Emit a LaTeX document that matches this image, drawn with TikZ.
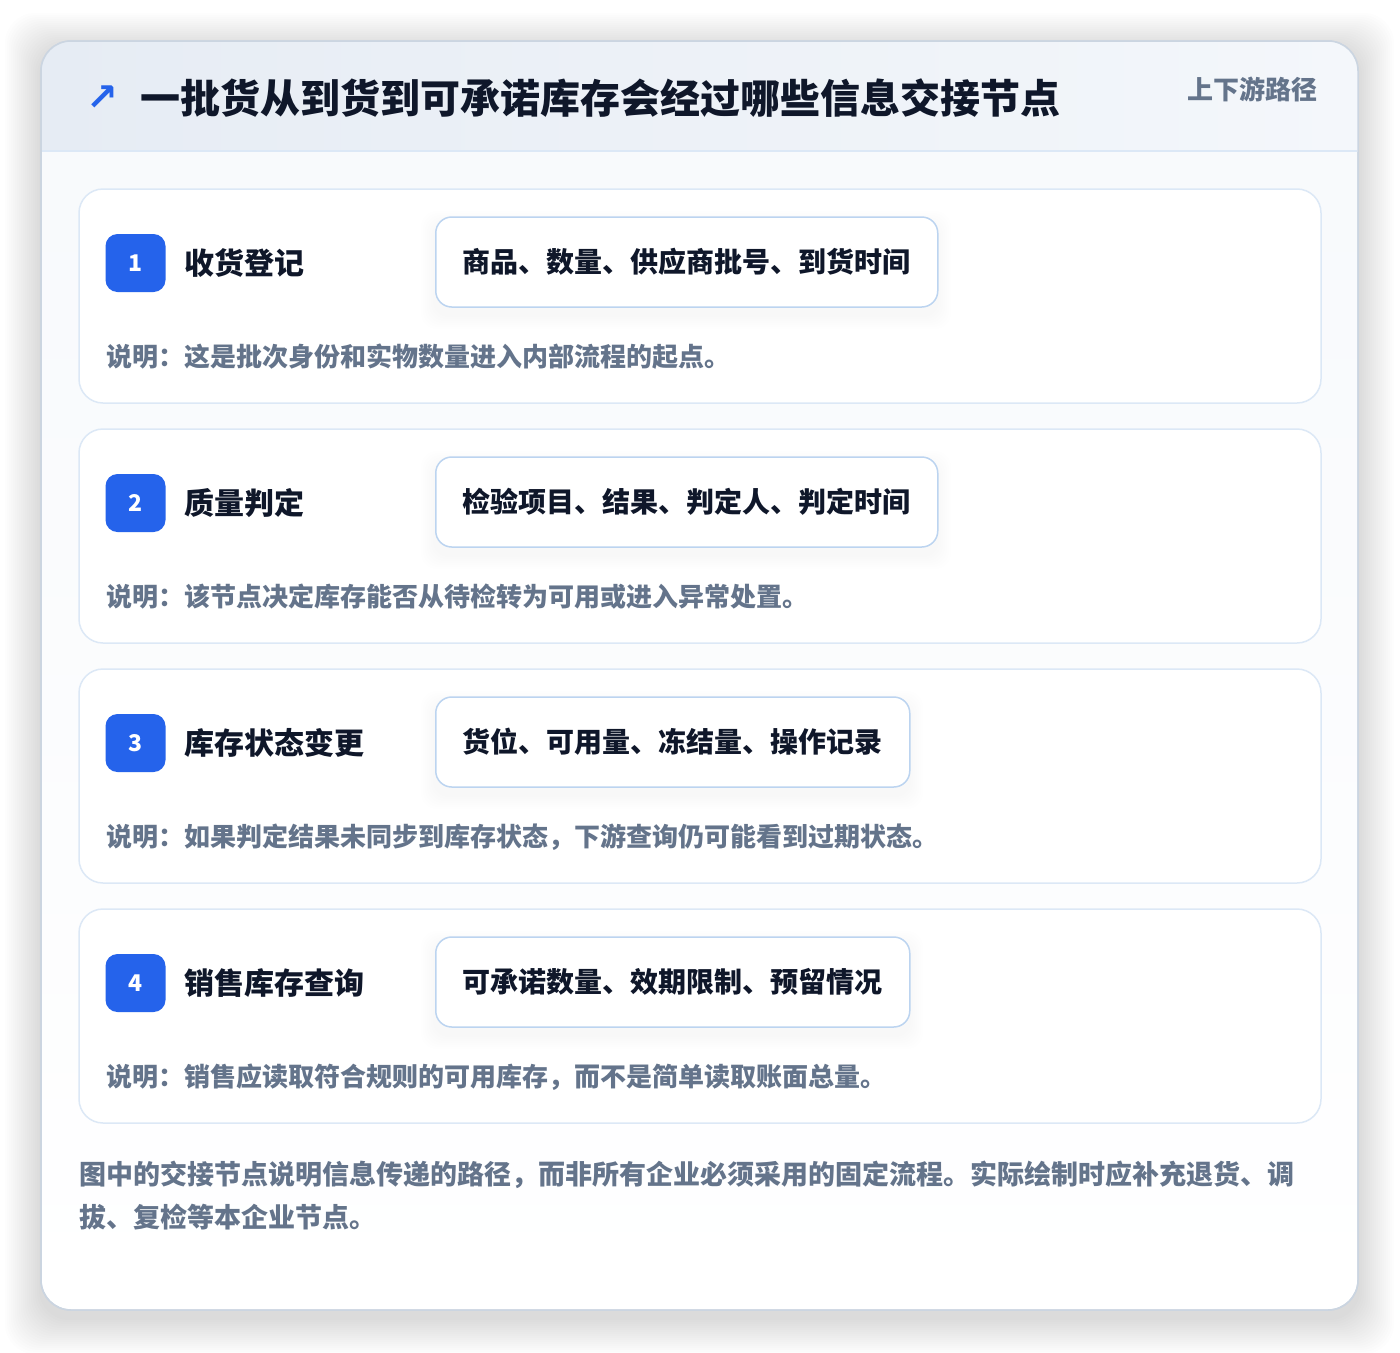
\documentclass[tikz,border=0pt]{standalone}
\usepackage{fontspec}
\setmainfont{Noto Sans CJK SC}
\newfontfamily\symfont{DejaVu Sans}
\usetikzlibrary{positioning}

\definecolor{ink}{HTML}{0F172A}
\definecolor{muted}{HTML}{64748B}
\definecolor{brand}{HTML}{2563EB}
\definecolor{edge}{HTML}{DCE8F6}
\definecolor{chipedge}{HTML}{BCD4F0}
\definecolor{cardedge}{HTML}{CBD5E1}
\definecolor{headl}{HTML}{E6ECF4}
\definecolor{headr}{HTML}{F4F7FB}
\definecolor{paper}{HTML}{F7F9FC}

\tikzset{
  card/.style={draw=cardedge, line width=1.5pt, rounded corners=30pt},
  stepbox/.style={draw=edge, line width=1.5pt, fill=white, rounded corners=24pt},
  badge/.style={fill=brand, text=white, rounded corners=12pt, minimum width=60pt,
    minimum height=58pt, inner sep=0pt, font=\bfseries\fontsize{23}{23}\selectfont},
  steptitle/.style={text=ink, anchor=west, inner sep=0pt, font=\bfseries\fontsize{30}{30}\selectfont},
  chip/.style={draw=chipedge, line width=1.5pt, fill=white, rounded corners=16pt,
    minimum height=90pt, inner xsep=27pt, anchor=west, text=ink,
    font=\bfseries\fontsize{28}{28}\selectfont},
  note/.style={text=muted, anchor=west, inner sep=0pt, font=\bfseries\fontsize{26}{26}\selectfont},
}

\begin{document}
\begin{tikzpicture}[x=1pt,y=-1pt]
  \useasboundingbox (0,0) rectangle (1400,1352);
  \fill[white] (0,0) rectangle (1400,1352);

  % soft shadow under the card
  \foreach \s in {2,4,...,36}
    \fill[black,opacity=0.006,rounded corners=30pt] (41-\s,49-\s) rectangle (1358+\s,1318+\s);

  % card and header band
  \shade[card, top color=paper, bottom color=white] (41,41) rectangle (1358,1310);
  \begin{scope}
    \clip[rounded corners=30pt] (41,41) rectangle (1358,1310);
    \shade[left color=headl, right color=headr] (41,41) rectangle (1358,151);
  \end{scope}
  \draw[edge, line width=1.5pt] (42,151) -- (1357,151);
  \draw[card] (41,41) rectangle (1358,1310);

  \node[text=brand, font=\symfont\bfseries\fontsize{38}{38}\selectfont] (icon) at (102,98) {↗};
  \node[text=ink, anchor=west, inner sep=0pt, font=\bfseries\fontsize{40}{40}\selectfont]
    (title) at (140,98) {一批货从到货到可承诺库存会经过哪些信息交接节点};
  \node[text=muted, anchor=east, inner sep=0pt, font=\bfseries\fontsize{26}{26}\selectfont]
    (tag) at (1318,89) {上下游路径};

  % the four steps
  \foreach \n/\name/\fields/\right/\remark [count=\i from 0] in {
      1/收货登记/商品、数量、供应商批号、到货时间/937/说明：这是批次身份和实物数量进入内部流程的起点。,
      2/质量判定/检验项目、结果、判定人、判定时间/937/说明：该节点决定库存能否从待检转为可用或进入异常处置。,
      3/库存状态变更/货位、可用量、冻结量、操作记录/909/说明：如果判定结果未同步到库存状态，下游查询仍可能看到过期状态。,
      4/销售库存查询/可承诺数量、效期限制、预留情况/909/说明：销售应读取符合规则的可用库存，而不是简单读取账面总量。}
  {
    \pgfmathsetmacro{\top}{189+240*\i}
    \draw[stepbox] (79,\top) rectangle (1321,\top+214);
    \node[badge] (badge\n) at (135.5,\top+74) {\n};
    \node[steptitle] (name\n) at (184,\top+74) {\name};
    \foreach \d in {2,4,...,14}
      \fill[black,opacity=0.004,rounded corners=16pt] (435-\d,\top+28-\d+8) rectangle (\right+\d,\top+118+\d+8);
    \node[chip] (fields\n) at (435,\top+73) {\fields};
    \node[note] (remark\n) at (106,\top+168) {\remark};
  }

  % closing remark
  \node[note, font=\bfseries\fontsize{27}{27}\selectfont] (footA) at (79,1175)
    {图中的交接节点说明信息传递的路径，而非所有企业必须采用的固定流程。实际绘制时应补充退货、调};
  \node[note, font=\bfseries\fontsize{27}{27}\selectfont] (footB) at (79,1217)
    {拔、复检等本企业节点。};
\end{tikzpicture}
\end{document}
